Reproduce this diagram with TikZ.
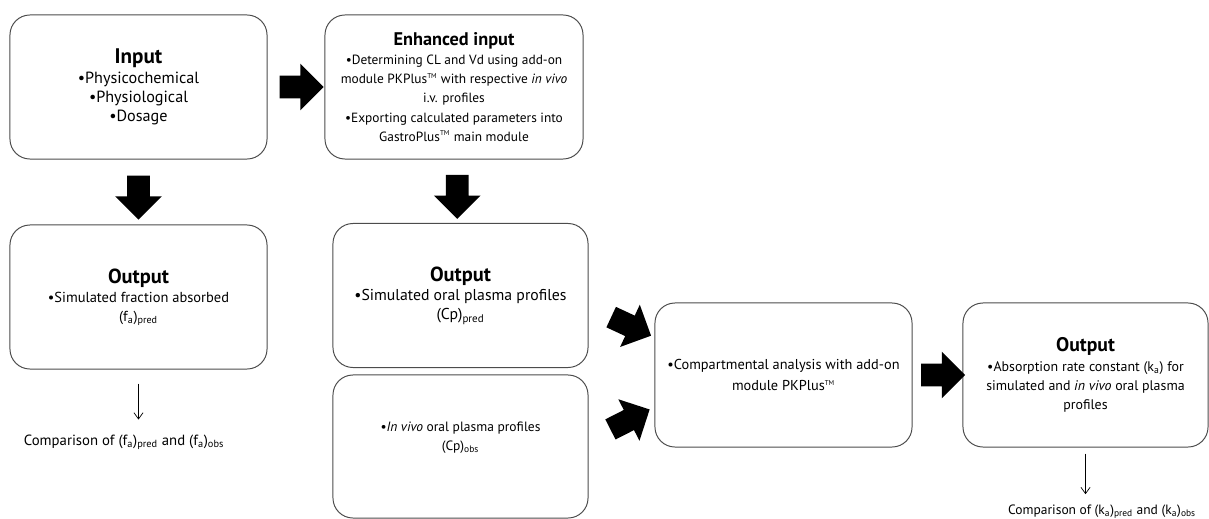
\documentclass[tikz,border=0pt]{standalone}
\usepackage{fontspec}
\setmainfont{PT Sans}
\usetikzlibrary{positioning, arrows.meta, shapes.arrows, calc}
\newcommand{\Head}[2][14.5]{{\fontsize{#1}{17}\selectfont\bfseries #2}}
\newcommand{\Sub}[1]{\textsubscript{#1}}
\newcommand{\TM}{\textsuperscript{\fontsize{5}{5}\selectfont TM}}
\tikzset{
    box/.style={draw=black!70, line width=0.7pt, rounded corners=0.5cm,
      minimum width=6.425cm, minimum height=3.6cm, align=center, inner xsep=1pt},
    fs/.style={font=\fontsize{#1}{13.6}\selectfont},
    bigarrow/.style={single arrow, fill=black, draw=none, inner xsep=0pt,
      inner ysep=0.275cm, single arrow head extend=0.3cm, minimum height=1.1cm},
    thinarr/.style={-{Straight Barb[length=4.5pt, width=6.5pt]}, line width=0.5pt},
}
\begin{document}
\begin{tikzpicture}[x=0.025cm, y=-0.025cm]
    \useasboundingbox (0,0) rectangle (1209,519);

    \node[box, fs=11.5] (inp) at (138.5,87) {\Head[15]{Input}\\
      •Physicochemical\\•Physiological\\•Dosage};
    \node[box, fs=9.5, minimum width=6.45cm] (enh) at (454,87) {\Head[13]{Enhanced input}\\
      •Determining CL and Vd using add-on\\
      module PKPlus\TM{} with respective \textit{in vivo}\\
      i.v. profiles\\
      •Exporting calculated parameters into\\
      GastroPlus\TM{} main module};

    \node[box, fs=10.3] (outf) at (138.5,297) {\Head{Output}\\
      •Simulated fraction absorbed\\(f\Sub{a})\Sub{pred}};
    \node[box, fs=11.2, minimum width=6.375cm] (outc) at (460.5,295.5) {\Head{Output}\\
      •Simulated oral plasma profiles\\(Cp)\Sub{pred}};
    \node[box, fs=9.6, minimum width=6.375cm, minimum height=3.575cm] (vivo) at (460.5,446.5)
      {•\textit{In vivo} oral plasma profiles\\(Cp)\Sub{obs}\\[1pt]};

    \node[box, fs=10.2] (comp) at (783.5,375) {•Compartmental analysis with add-on\\[1pt]
      module PKPlus\TM};
    \node[box, fs=9.9, minimum width=6.125cm] (outk) at (1085.5,375) {\Head[14]{Output}\\
      •Absorption rate constant (k\Sub{a}) for\\
      simulated and \textit{in vivo} oral plasma\\profiles};

    % block arrows
    \node[bigarrow] (a0) at ($(inp.east)!0.5!(enh.west)$) {};
    \node[bigarrow, rotate=-90] (a1) at ($(inp.south)!0.5!(outf.north)$) {};
    \node[bigarrow, rotate=-90] (a2) at ($(enh.south)!0.5!(outc.north)$) {};
    \node[bigarrow, rotate=-25] (a3) at (626,324) {};
    \node[bigarrow, rotate=27] (a4) at (625,422) {};
    \node[bigarrow] (a5) at ($(comp.east)!0.5!(outk.west)$) {};

    % comparisons
    \node[fs=10.5] (cmpf) at (124,442) {Comparison of (f\Sub{a})\Sub{pred} and (f\Sub{a})\Sub{obs}};
    \node[fs=9.6] (cmpk) at (1102,512) {Comparison of (k\Sub{a})\Sub{pred} and (k\Sub{a})\Sub{obs}};

    \draw[thinarr, shorten >=0.25cm] (outf.south) ++(0,14) -- (outf.south |- cmpf.north);
    \draw[thinarr, shorten >=0.15cm] (outk.south) ++(0,6) -- (outk.south |- cmpk.north);
\end{tikzpicture}
\end{document}
